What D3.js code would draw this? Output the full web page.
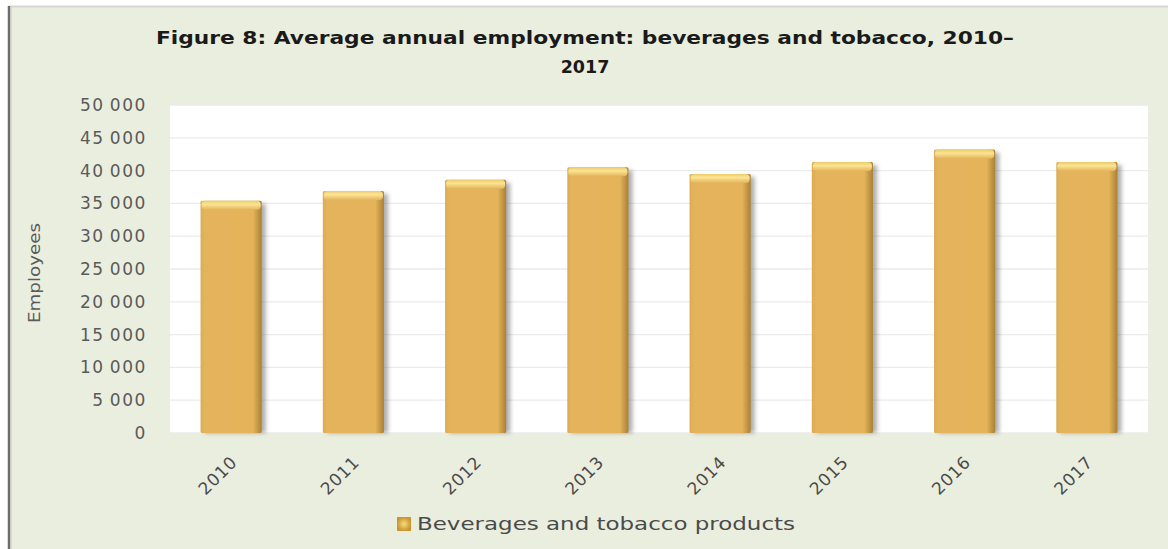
<!DOCTYPE html>
<html>
<head>
<meta charset="utf-8">
<script src="https://cdn.jsdelivr.net/npm/d3@7"></script>
<style>
  html, body { margin: 0; padding: 0; background: #ffffff; }
  svg { display: block; }
</style>
</head>
<body>
<div id="chart"></div>
<script>
// chart values
const years = ["2010", "2011", "2012", "2013", "2014", "2015", "2016", "2017"];
const employees = [35400, 36900, 38600, 40500, 39500, 41300, 43200, 41300];
const yTicks = [0, 5000, 10000, 15000, 20000, 25000, 30000, 35000, 40000, 45000, 50000];
const titleLines = ["Figure 8: Average annual employment: beverages and tobacco, 2010\u2013", "2017"];
const yLabel = "Employees";
const seriesName = "Beverages and tobacco products";

const W = 1168, H = 549;
const plot = { left: 170, right: 1148, top: 105, bottom: 433 };
const font = "'DejaVu Sans', sans-serif";

const svg = d3.select("#chart").append("svg")
    .attr("width", W)
    .attr("height", H);

const defs = svg.append("defs");

// bar body: darker edge on the right, like the bevel in the original
const body = defs.append("linearGradient").attr("id", "barBody")
    .attr("x1", "0").attr("x2", "1").attr("y1", "0").attr("y2", "0");
body.append("stop").attr("offset", "0%").attr("stop-color", "#dcab52");
body.append("stop").attr("offset", "7%").attr("stop-color", "#e4b45c");
body.append("stop").attr("offset", "86%").attr("stop-color", "#e4b35a");
body.append("stop").attr("offset", "100%").attr("stop-color", "#a98133");

const cap = defs.append("linearGradient").attr("id", "barCap")
    .attr("x1", "0").attr("x2", "0").attr("y1", "0").attr("y2", "1");
cap.append("stop").attr("offset", "0%").attr("stop-color", "#eccb6c");
cap.append("stop").attr("offset", "40%").attr("stop-color", "#fbe493");
cap.append("stop").attr("offset", "100%").attr("stop-color", "#e4b45c");

const legendGrad = defs.append("radialGradient").attr("id", "legendSwatch");
legendGrad.append("stop").attr("offset", "0%").attr("stop-color", "#f7dc7c");
legendGrad.append("stop").attr("offset", "100%").attr("stop-color", "#c8952f");

defs.append("filter").attr("id", "soft")
    .attr("x", "-30%").attr("y", "-10%").attr("width", "160%").attr("height", "120%")
    .append("feGaussianBlur").attr("stdDeviation", 2.2);

// chart area background + frame
svg.append("rect")
    .attr("x", 8).attr("y", 6)
    .attr("width", W - 8).attr("height", H - 6)
    .attr("fill", "#eaeedf");
svg.append("line")
    .attr("x1", 8).attr("x2", W).attr("y1", 6.5).attr("y2", 6.5)
    .attr("stroke", "#d6d6d6").attr("stroke-width", 2);
svg.append("line")
    .attr("x1", 9).attr("x2", 9).attr("y1", 6).attr("y2", H)
    .attr("stroke", "#6d6d6d").attr("stroke-width", 2.5);
svg.append("line")
    .attr("x1", 11).attr("x2", 11).attr("y1", 6).attr("y2", H)
    .attr("stroke", "#c9c9c4").attr("stroke-width", 1);

// plot area
svg.append("rect")
    .attr("x", plot.left).attr("y", plot.top)
    .attr("width", plot.right - plot.left).attr("height", plot.bottom - plot.top)
    .attr("fill", "#ffffff");

// scales
const x = d3.scaleBand().domain(years).range([plot.left, plot.right]).paddingInner(0.5).paddingOuter(0.25);
const y = d3.scaleLinear().domain([0, 50000]).range([plot.bottom, plot.top]);

// gridlines
svg.append("g")
    .selectAll("line")
    .data(yTicks)
    .join("line")
    .attr("x1", plot.left).attr("x2", plot.right)
    .attr("y1", (d) => y(d)).attr("y2", (d) => y(d))
    .attr("stroke", "#ebebeb").attr("stroke-width", 1.3);

// y axis
const yAxis = d3.axisLeft(y)
    .tickValues(yTicks)
    .tickSize(0)
    .tickPadding(23)
    .tickFormat((d) => d3.format(",")(d).replace(",", "\u2009"));
const gy = svg.append("g")
    .attr("transform", `translate(${plot.left},0)`)
    .call(yAxis);
gy.select(".domain").remove();
gy.selectAll("text")
    .attr("font-family", font)
    .attr("font-size", 17)
    .attr("letter-spacing", 1.6)
    .attr("fill", "#5a5a5a");

// x axis
const xAxis = d3.axisBottom(x).tickSize(0).tickPadding(0);
const gx = svg.append("g")
    .attr("transform", `translate(0,${plot.bottom})`)
    .call(xAxis);
gx.select(".domain").remove();
gx.selectAll("text")
    .attr("font-family", font)
    .attr("font-size", 17)
    .attr("letter-spacing", 0.8)
    .attr("fill", "#4a4a4a")
    .attr("text-anchor", "end")
    .attr("dy", "0.35em")
    .attr("y", 0)
    .attr("transform", "translate(3,26) rotate(-45)");

// bars
const data = years.map((yr, i) => ({ year: yr, value: employees[i] }));
const bars = svg.append("g").selectAll("g").data(data).join("g");

bars.append("rect")
    .attr("x", (d) => x(d.year) + 4)
    .attr("y", (d) => y(d.value) + 3)
    .attr("width", x.bandwidth())
    .attr("height", (d) => plot.bottom - y(d.value) - 3)
    .attr("fill", "#6a6a6a")
    .attr("opacity", 0.55)
    .attr("filter", "url(#soft)");

bars.append("rect")
    .attr("x", (d) => x(d.year))
    .attr("y", (d) => y(d.value))
    .attr("width", x.bandwidth())
    .attr("height", (d) => plot.bottom - y(d.value))
    .attr("rx", 1.5)
    .attr("fill", "url(#barBody)");

bars.append("rect")
    .attr("x", (d) => x(d.year) + 1)
    .attr("y", (d) => y(d.value))
    .attr("width", x.bandwidth() - 2)
    .attr("height", 9)
    .attr("rx", 4)
    .attr("fill", "url(#barCap)");

// title
svg.append("g").selectAll("text")
    .data(titleLines)
    .join("text")
    .attr("x", 585)
    .attr("y", (d, i) => 44 + i * 29)
    .attr("text-anchor", "middle")
    .attr("font-family", font)
    .attr("font-weight", "bold")
    .attr("font-size", 17.5)
    .attr("fill", "#1a1a1a")
    .attr("textLength", (d, i) => (i === 0 ? 858 : null))
    .attr("lengthAdjust", "spacingAndGlyphs")
    .text((d) => d);

// y axis label
svg.append("text")
    .attr("transform", `translate(40,${(plot.top + plot.bottom) / 2 + 4}) rotate(-90)`)
    .attr("text-anchor", "middle")
    .attr("font-family", font)
    .attr("font-size", 16)
    .attr("fill", "#5a5a5a")
    .attr("textLength", 100)
    .attr("lengthAdjust", "spacingAndGlyphs")
    .text(yLabel);

// legend
const legend = svg.append("g").attr("transform", "translate(397,524)");
legend.append("rect")
    .attr("x", 0).attr("y", -7)
    .attr("width", 14).attr("height", 14)
    .attr("fill", "url(#legendSwatch)");
legend.append("text")
    .attr("x", 20).attr("y", 0)
    .attr("dy", "0.35em")
    .attr("font-family", font)
    .attr("font-size", 17)
    .attr("fill", "#4a4a4a")
    .attr("textLength", 378)
    .attr("lengthAdjust", "spacingAndGlyphs")
    .text(seriesName);
</script>
</body>
</html>
